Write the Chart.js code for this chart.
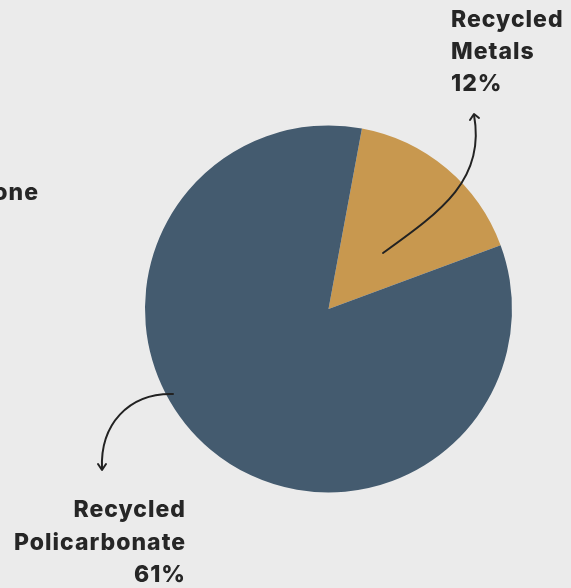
<!DOCTYPE html>
<html>
<head>
<meta charset="utf-8">
<script src="https://cdn.jsdelivr.net/npm/chart.js@4/dist/chart.umd.min.js"></script>
<style>
  html, body { margin: 0; padding: 0; background: #ebebeb; }
  #wrap { position: relative; width: 571px; height: 588px; }
</style>
</head>
<body>
<div id="wrap"><canvas id="c" width="571" height="588"></canvas></div>
<script>
// ---- data ----
const categories = ['Recycled Metals', 'Recycled Policarbonate'];
const values = [12, 61];
const percentLabels = ['12%', '61%'];
const sliceColors = ['#c8984f', '#445b6f'];
const offscreenLabel = 'Silicone';

const FONT = '800 23px Inter, Lato, "Open Sans", sans-serif';

const annotations = {
  id: 'annotations',
  afterDraw(chart) {
    const ctx = chart.ctx;
    ctx.save();
    ctx.fillStyle = '#262626';
    ctx.font = FONT;
    ctx.letterSpacing = '1px';
    ctx.textBaseline = 'alphabetic';
    // Metals label (left aligned)
    const m = categories[0].split(' ');
    ctx.textAlign = 'left';
    ctx.fillText(m[0], 451, 27);
    ctx.fillText(m[1], 451, 59);
    ctx.fillText(percentLabels[0], 451, 91);
    // Policarbonate label (right aligned)
    const p = categories[1].split(' ');
    ctx.textAlign = 'right';
    ctx.fillText(p[0], 186, 517);
    ctx.fillText(p[1], 186, 550);
    ctx.fillText(percentLabels[1], 186, 582);
    // partially visible label on left
    ctx.fillText(offscreenLabel, 39, 200);

    // arrows
    ctx.letterSpacing = '0px';
    ctx.strokeStyle = '#222';
    ctx.lineWidth = 2;
    ctx.lineCap = 'round';
    ctx.lineJoin = 'round';
    ctx.beginPath();
    ctx.moveTo(383, 253);
    ctx.bezierCurveTo(440, 212, 486, 180, 474, 115);
    ctx.stroke();
    ctx.beginPath();
    ctx.moveTo(470, 120);
    ctx.lineTo(474, 114);
    ctx.lineTo(479, 118);
    ctx.stroke();

    ctx.beginPath();
    ctx.moveTo(173, 394);
    ctx.bezierCurveTo(128, 393, 100, 425, 102, 469);
    ctx.stroke();
    ctx.beginPath();
    ctx.moveTo(98, 464);
    ctx.lineTo(102, 470);
    ctx.lineTo(106, 464);
    ctx.stroke();
    ctx.restore();
  }
};

new Chart(document.getElementById('c'), {
  type: 'pie',
  data: {
    labels: categories,
    datasets: [{
      data: values,
      backgroundColor: sliceColors,
      borderWidth: 0
    }]
  },
  options: {
    responsive: false,
    animation: false,
    rotation: 10.5,
    layout: { padding: { left: 145, right: 59, top: 124, bottom: 94 } },
    plugins: { legend: { display: false }, tooltip: { enabled: false } }
  },
  plugins: [annotations]
});
</script>
</body>
</html>
